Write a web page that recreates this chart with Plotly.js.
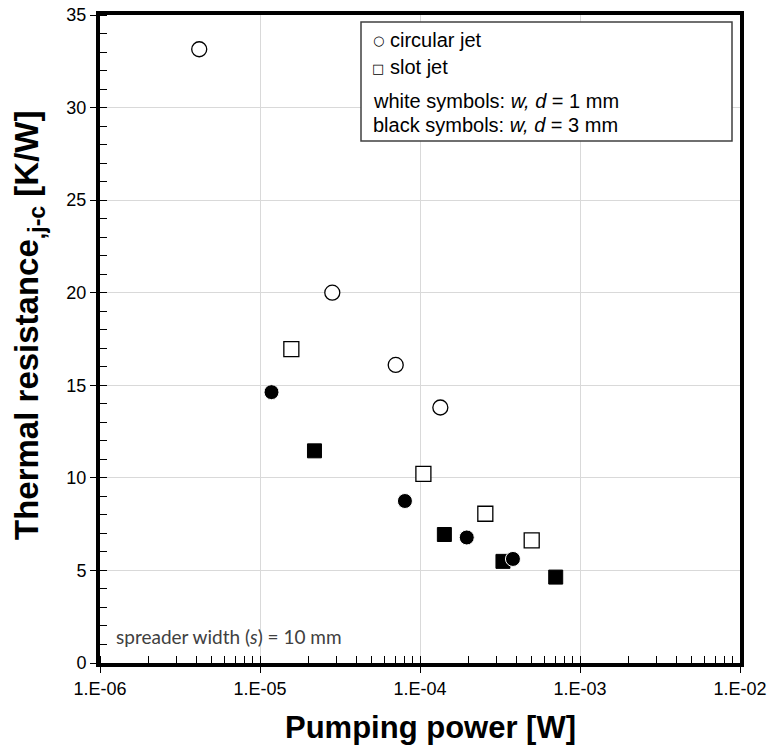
<!DOCTYPE html>
<html>
<head>
<meta charset="utf-8">
<script src="https://cdn.plot.ly/plotly-3.0.1.min.js"></script>
<style>html,body{margin:0;padding:0;background:#fff;}</style>
</head>
<body>
<div id="chart" style="width:770px;height:755px;"></div>
<script>
// Pumping power [W] and thermal resistance [K/W]
const circ1mm_x = [4.17e-6, 2.83e-5, 7.05e-5, 1.34e-4];
const circ1mm_y = [33.15, 20.0, 16.1, 13.8];
const circ3mm_x = [1.18e-5, 8.05e-5, 1.96e-4, 3.81e-4];
const circ3mm_y = [14.63, 8.75, 6.78, 5.62];
const slot1mm_x = [1.57e-5, 1.05e-4, 2.56e-4, 4.99e-4];
const slot1mm_y = [16.95, 10.22, 8.06, 6.62];
const slot3mm_x = [2.19e-5, 1.42e-4, 3.30e-4, 7.05e-4];
const slot3mm_y = [11.46, 6.94, 5.49, 4.64];

const xTickVals = [1e-6, 1e-5, 1e-4, 1e-3, 1e-2];
const xTickText = ['1.E-06', '1.E-05', '1.E-04', '1.E-03', '1.E-02'];
const yTickVals = [0, 5, 10, 15, 20, 25, 30, 35];

const legendSymbols = ['○', '□'];
const legendLines = [
  'circular jet',
  'slot jet',
  'white symbols: <i>w, d</i> = 1 mm',
  'black symbols: <i>w, d</i> = 3 mm'
];
const noteText = 'spreader width (<i>s</i>) = 10 mm';
const xTitle = '<b>Pumping power [W]</b>';
const yTitle = '<b>Thermal resistance<sub>,j-c</sub> [K/W]</b>';

const traces = [
  {x: slot1mm_x, y: slot1mm_y, type: 'scatter', mode: 'markers', name: 'slot 1 mm',
   marker: {symbol: 'square', size: 15, color: '#ffffff', line: {color: '#000000', width: 1.3}}},
  {x: slot3mm_x, y: slot3mm_y, type: 'scatter', mode: 'markers', name: 'slot 3 mm',
   marker: {symbol: 'square', size: 14, color: '#000000', line: {color: '#000000', width: 1}}},
  {x: circ1mm_x, y: circ1mm_y, type: 'scatter', mode: 'markers', name: 'circular 1 mm',
   marker: {symbol: 'circle', size: 15, color: '#ffffff', line: {color: '#000000', width: 1.3}}},
  {x: circ3mm_x, y: circ3mm_y, type: 'scatter', mode: 'markers', name: 'circular 3 mm',
   marker: {symbol: 'circle', size: 15, color: '#000000', line: {color: '#ffffff', width: 1}}}
];

const L = 100, R = 30, T = 15, B = 92, W = 770, H = 755;
const pw = W - L - R, ph = H - T - B;
const px = v => (v - L) / pw;
const py = v => (H - B - v) / ph;
const FONT = 'Liberation Sans, Arial, sans-serif';

const legendY = [40, 67, 101, 125];
const annotations = [];
legendSymbols.forEach((s, i) => annotations.push({
  xref: 'paper', yref: 'paper', x: px(378), y: py(legendY[i] + 1),
  xanchor: 'center', yanchor: 'middle', showarrow: false, text: s,
  font: {family: 'DejaVu Sans, sans-serif', size: 13, color: '#000'}
}));
legendLines.forEach((t, i) => annotations.push({
  xref: 'paper', yref: 'paper', x: px(i < 2 ? 388 : 371), y: py(legendY[i]),
  xanchor: 'left', yanchor: 'middle', showarrow: false, text: t,
  font: {family: FONT, size: 20, color: '#000'}
}));
annotations.push({
  xref: 'paper', yref: 'paper', x: px(114), y: py(636),
  xanchor: 'left', yanchor: 'middle', showarrow: false, text: noteText,
  font: {family: 'Lato, Calibri, sans-serif', size: 19, color: '#404040'}
});
annotations.push({
  xref: 'paper', yref: 'paper', x: px(430), y: py(727),
  xanchor: 'center', yanchor: 'middle', showarrow: false, text: xTitle,
  font: {family: FONT, size: 31, color: '#000'}
});
annotations.push({
  xref: 'paper', yref: 'paper', x: px(29), y: py(325),
  xanchor: 'center', yanchor: 'middle', showarrow: false, text: yTitle, textangle: -90,
  font: {family: FONT, size: 33, color: '#000'}
});

const layout = {
  width: W, height: H,
  margin: {l: L, r: R, t: T, b: B},
  paper_bgcolor: '#ffffff', plot_bgcolor: '#ffffff',
  showlegend: false,
  font: {family: FONT, color: '#000'},
  xaxis: {
    type: 'log', range: [-6, -2],
    tickvals: xTickVals, ticktext: xTickText,
    tickfont: {size: 18, family: FONT},
    ticks: 'outside', ticklen: 6, tickwidth: 1, tickcolor: '#000',
    showgrid: true, gridcolor: '#d9d9d9', gridwidth: 1,
    showline: true, linecolor: '#000', linewidth: 4, mirror: true,
    zeroline: false,
    minor: {ticks: 'inside', ticklen: 7, tickwidth: 1, tickcolor: '#000', showgrid: false, dtick: 'D1'}
  },
  yaxis: {
    range: [0, 35],
    tickvals: yTickVals,
    tickfont: {size: 18, family: FONT},
    ticks: 'outside', ticklen: 6, tickwidth: 1, tickcolor: '#000',
    showgrid: true, gridcolor: '#d9d9d9', gridwidth: 1,
    showline: true, linecolor: '#000', linewidth: 4, mirror: true,
    zeroline: false,
    minor: {ticks: 'inside', ticklen: 7, tickwidth: 1, tickcolor: '#000', showgrid: false, dtick: 1}
  },
  shapes: [{
    type: 'rect', xref: 'paper', yref: 'paper',
    x0: px(361), x1: px(732), y0: py(141), y1: py(22),
    line: {color: '#404040', width: 1.5}, fillcolor: '#ffffff', layer: 'above'
  }],
  annotations: annotations
};

Plotly.newPlot('chart', traces, layout, {displayModeBar: false, staticPlot: true});
</script>
</body>
</html>
